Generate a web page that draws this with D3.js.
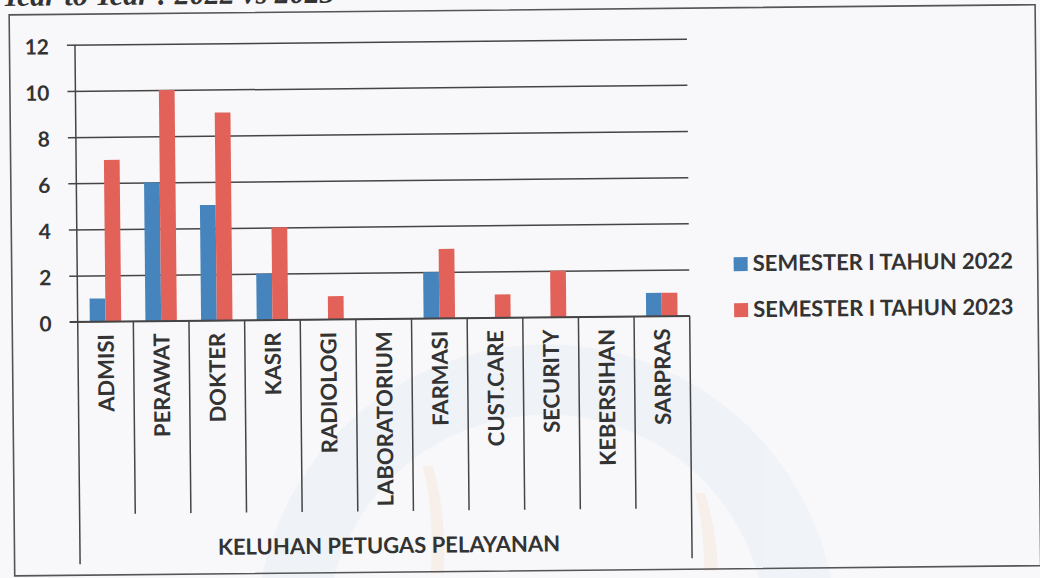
<!DOCTYPE html>
<html>
<head>
<meta charset="utf-8">
<script src="https://cdn.jsdelivr.net/npm/d3@7"></script>
<style>
  html, body { margin: 0; padding: 0; background: #f8f8fa; }
  svg { display: block; }
  text { font-family: Lato, "Open Sans", sans-serif; }
</style>
</head>
<body>
<svg id="chart" width="1040" height="578"></svg>
<script>
const categories = ["ADMISI","PERAWAT","DOKTER","KASIR","RADIOLOGI","LABORATORIUM","FARMASI","CUST.CARE","SECURITY","KEBERSIHAN","SARPRAS"];
const values2022 = [1,6,5,2,0,0,2,0,0,0,1];
const values2023 = [7,10,9,4,1,0,3,1,2,0,1];
const seriesNames = ["SEMESTER I TAHUN 2022","SEMESTER I TAHUN 2023"];
const seriesColors = ["#4584bc","#e2625a"];
const yTicks = [0,2,4,6,8,10,12];
const axisTitle = "KELUHAN PETUGAS PELAYANAN";
const pageTitle = "Year to Year : 2022 vs 2023";

(function () {
const svg = d3.select("#chart");
const textColor = "#333333";
const lineColor = "#454545";

// scanned page is slightly rotated
const g = svg.append("g").attr("transform", "rotate(-0.57)");

// faint watermark of the scanned page
const wm = g.append("g").attr("opacity", 0.4);
wm.append("circle").attr("cx", 540).attr("cy", 640).attr("r", 255)
  .attr("fill", "none").attr("stroke", "#e3eaf4").attr("stroke-width", 70);
wm.append("path").attr("d", "M418,470 Q430,520 425,578 L438,578 Q442,520 428,470 Z").attr("fill", "#f6e3d2");
wm.append("path").attr("d", "M690,500 Q700,540 698,578 L712,578 Q712,540 700,500 Z").attr("fill", "#f6e3d2");

// page title (cut off at top of the scan)
g.append("text")
  .attr("x", 2).attr("y", 6)
  .attr("font-style", "italic").attr("font-weight", 700)
  .attr("font-size", 30).attr("fill", "#333")
  .style("font-family", "'Liberation Serif', serif")
  .text(pageTitle);

// chart frame
g.append("rect")
  .attr("x", 9).attr("y", 15).attr("width", 1026).attr("height", 561)
  .attr("fill", "none").attr("stroke", "#555").attr("stroke-width", 1.6);

const pLeft = 74.5, pRight = 686.5, pTop = 45.5, pBottom = 322.5;

const x = d3.scaleBand().domain(categories).range([pLeft, pRight]).paddingInner(0).paddingOuter(0);
const xs = d3.scaleBand().domain([0,1]).range([0, x.bandwidth()]).paddingInner(0).paddingOuter(0.77);
const y = d3.scaleLinear().domain([0, 12]).range([pBottom, pTop]);

// gridlines with tick marks
const yAxis = d3.axisLeft(y).tickValues(yTicks).tickSize(-(pRight - pLeft)).tickFormat(d3.format("d")).tickPadding(26);
const ya = g.append("g").attr("transform", `translate(${pLeft},0)`).call(yAxis);
ya.select(".domain").remove();
ya.selectAll(".tick line").attr("x1", -8).attr("stroke", lineColor).attr("stroke-width", 1.5);
ya.selectAll(".tick text")
  .attr("fill", textColor).attr("font-size", 21).attr("font-weight", 700)
  .attr("dy", "0.42em")
  .style("font-family", "Lato, sans-serif");

// y axis line
g.append("line").attr("x1", pLeft).attr("x2", pLeft).attr("y1", pTop).attr("y2", pBottom)
  .attr("stroke", lineColor).attr("stroke-width", 1.5);

// bars
const series = [values2022, values2023];
series.forEach((vals, si) => {
  g.append("g").selectAll("rect").data(categories).join("rect")
    .attr("x", (c) => x(c) + xs(si))
    .attr("width", xs.bandwidth())
    .attr("y", (c, i) => y(vals[i]))
    .attr("height", (c, i) => y(0) - y(vals[i]))
    .attr("fill", seriesColors[si]);
});

// zero line over bars
g.append("line").attr("x1", pLeft - 8).attr("x2", pRight).attr("y1", y(0)).attr("y2", y(0))
  .attr("stroke", lineColor).attr("stroke-width", 1.5);

// category separators
const bounds = categories.map(c => x(c)).concat([pRight]);
g.append("g").selectAll("line").data(bounds).join("line")
  .attr("x1", d => d).attr("x2", d => d)
  .attr("y1", y(0))
  .attr("y2", (d, i) => (i === 0 || i === bounds.length - 1) ? 565 : 515)
  .attr("stroke", lineColor).attr("stroke-width", 1.5);

// category labels
g.append("g").selectAll("text").data(categories).join("text")
  .attr("transform", c => `translate(${x(c) + x.bandwidth() / 2 + 8},${335}) rotate(-90)`)
  .attr("text-anchor", "end")
  .attr("fill", textColor).attr("font-size", 22).attr("font-weight", 700)
  .text(c => c);

// axis title
g.append("text")
  .attr("x", (pLeft + pRight) / 2 + 3).attr("y", 557)
  .attr("text-anchor", "middle")
  .attr("fill", textColor).attr("font-size", 22).attr("font-weight", 700)
  .text(axisTitle);

// legend
const lg = g.append("g").selectAll("g").data(seriesNames).join("g")
  .attr("transform", (d, i) => `translate(731,${264.5 + i * 46})`);
lg.append("rect").attr("width", 14).attr("height", 14).attr("fill", (d, i) => seriesColors[i]);
lg.append("text").attr("x", 19).attr("y", 14)
  .attr("fill", textColor).attr("font-size", 22).attr("font-weight", 700)
  .text(d => d);
})();
</script>
</body>
</html>
